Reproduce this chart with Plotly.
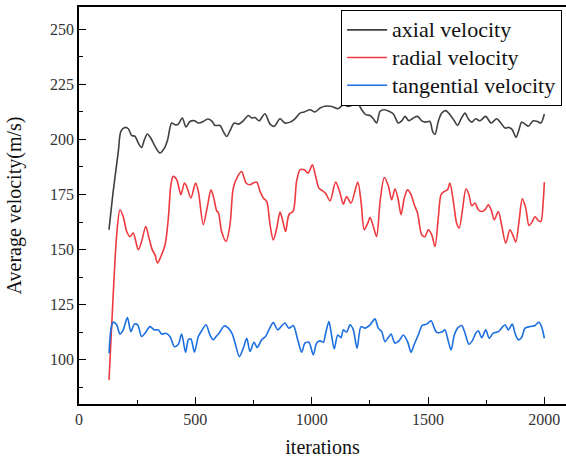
import plotly.graph_objects as go

axial_iter = [129, 147, 169, 180, 198, 212, 226, 241, 255, 269, 281, 294, 308, 327, 348, 367, 381, 398, 413, 427,
              444, 460, 477, 496, 513, 534, 553, 570, 584, 606, 620, 635, 649, 667, 685, 706, 727, 742, 756, 774,
              799, 821, 839, 864, 885, 907, 928, 950, 968, 993, 1014, 1036, 1057, 1086, 1114, 1136, 1157, 1179, 1200, 1215,
              1232, 1251, 1265, 1279, 1294, 1312, 1332, 1351, 1372, 1387, 1401, 1418, 1437, 1455, 1473, 1490, 1508, 1520, 1530, 1544,
              1559, 1576, 1594, 1613, 1627, 1642, 1659, 1673, 1688, 1705, 1723, 1748, 1771, 1795, 1813, 1831, 1848, 1862, 1878, 1891,
              1902, 1917, 1931, 1952, 1971, 1985, 2000]
axial_vel = [159.0, 176.4, 194.5, 203.6, 205.4, 204.8, 201.8, 201.3, 198.3, 196.3, 199.8, 202.4, 200.6, 196.8, 193.8, 196.0, 199.8, 207.4, 206.6, 206.9,
             209.7, 205.6, 208.1, 208.4, 207.4, 208.1, 209.2, 208.4, 206.3, 206.3, 203.6, 201.3, 203.9, 207.4, 206.9, 208.4, 210.8, 209.7, 209.9, 208.4,
             211.6, 206.9, 205.9, 209.3, 207.4, 207.8, 209.3, 211.9, 212.4, 213.4, 212.4, 214.2, 215.0, 214.9, 213.9, 215.7, 214.9, 215.7, 216.0, 213.4,
             211.2, 210.8, 209.3, 207.4, 212.7, 213.4, 212.7, 211.5, 207.4, 208.4, 210.4, 208.4, 209.7, 210.4, 208.4, 207.8, 208.1, 203.5, 202.2, 208.1,
             211.9, 213.0, 211.2, 208.4, 206.3, 209.3, 211.9, 209.3, 207.8, 209.3, 208.4, 210.4, 207.4, 209.3, 207.4, 205.1, 205.4, 204.4, 200.9, 204.4,
             207.8, 206.9, 205.9, 208.4, 208.1, 207.4, 211.5]

radial_iter = [129, 147, 162, 176, 190, 205, 219, 233, 255, 269, 287, 301, 315, 327, 337, 352, 370, 384, 395, 405,
               420, 438, 453, 463, 481, 501, 513, 534, 553, 567, 578, 592, 599, 613, 632, 649, 663, 682, 699, 718,
               735, 749, 764, 778, 792, 807, 821, 835, 850, 864, 878, 888, 902, 921, 935, 950, 968, 985, 1003, 1017,
               1031, 1046, 1060, 1079, 1103, 1122, 1136, 1150, 1169, 1198, 1212, 1226, 1241, 1251, 1265, 1279, 1294, 1312, 1329, 1344,
               1358, 1372, 1384, 1398, 1412, 1427, 1441, 1455, 1473, 1487, 1501, 1516, 1530, 1544, 1556, 1570, 1584, 1594, 1608, 1623,
               1634, 1649, 1663, 1676, 1688, 1702, 1716, 1731, 1745, 1759, 1771, 1785, 1802, 1816, 1834, 1852, 1864, 1877, 1891, 1905,
               1920, 1934, 1948, 1960, 1974, 1985, 1995, 2000]
radial_vel = [90.9, 129.5, 156.7, 168.1, 165.0, 158.2, 155.9, 157.5, 149.9, 153.7, 160.5, 155.2, 149.9, 147.6, 143.9, 146.9, 152.2, 164.3, 179.4, 183.2,
              181.7, 174.9, 180.2, 178.6, 173.4, 180.2, 176.4, 161.3, 170.3, 177.1, 174.0, 167.5, 166.8, 158.2, 153.7, 161.3, 177.9, 183.2, 185.4, 180.2,
              179.4, 180.2, 180.6, 176.4, 173.4, 171.8, 161.3, 154.4, 159.8, 167.0, 162.0, 158.2, 165.8, 167.6, 180.9, 186.2, 186.2, 184.7, 188.5, 183.2,
              177.9, 176.7, 175.5, 172.1, 180.6, 175.6, 170.6, 174.1, 171.1, 180.6, 171.8, 159.0, 162.0, 164.6, 160.5, 155.9, 171.8, 182.7, 179.1, 172.6,
              177.6, 172.6, 165.8, 173.4, 177.1, 174.9, 170.3, 166.6, 156.7, 155.9, 159.0, 156.7, 151.4, 164.3, 174.9, 176.4, 177.1, 180.2, 172.6, 162.0,
              159.8, 168.8, 177.6, 174.9, 169.9, 171.1, 168.1, 167.3, 168.1, 170.3, 168.1, 163.5, 167.3, 161.3, 152.9, 159.0, 156.7, 153.4, 162.7, 173.0,
              168.8, 160.9, 162.7, 165.0, 163.1, 162.7, 171.8, 180.6]

tangential_iter = [129, 138, 147, 162, 176, 190, 208, 223, 238, 252, 269, 284, 305, 324, 341, 355, 373, 391, 410, 427,
                   441, 458, 470, 481, 496, 513, 527, 546, 563, 577, 590, 602, 624, 642, 659, 673, 689, 706, 721, 735,
                   752, 766, 785, 802, 816, 835, 854, 868, 885, 902, 921, 940, 957, 971, 988, 1007, 1021, 1036, 1050, 1060,
                   1074, 1083, 1097, 1112, 1126, 1136, 1150, 1165, 1179, 1195, 1212, 1229, 1251, 1272, 1286, 1301, 1315, 1329, 1341, 1358,
                   1375, 1394, 1412, 1427, 1441, 1458, 1475, 1494, 1513, 1527, 1537, 1559, 1573, 1584, 1599, 1613, 1627, 1645, 1659, 1676,
                   1690, 1705, 1716, 1731, 1748, 1763, 1780, 1802, 1816, 1831, 1845, 1862, 1874, 1888, 1902, 1917, 1938, 1960, 1977, 1988,
                   2000]
tangential_vel = [103.0, 114.4, 117.1, 115.9, 111.7, 113.6, 119.2, 112.8, 116.2, 115.9, 110.6, 112.1, 115.1, 113.6, 113.6, 111.7, 112.1, 110.6, 106.0, 107.1,
                  111.7, 103.5, 109.1, 109.5, 103.5, 110.6, 113.2, 115.9, 111.3, 109.1, 110.7, 112.1, 115.4, 114.4, 111.7, 106.8, 101.5, 105.3, 109.8, 103.8,
                  108.0, 105.6, 109.1, 110.6, 113.6, 116.9, 113.6, 115.1, 116.7, 114.4, 115.6, 109.1, 103.5, 107.6, 108.0, 102.3, 107.6, 108.6, 108.0, 112.1,
                  117.4, 112.8, 105.0, 111.3, 110.1, 113.6, 112.6, 115.9, 113.6, 105.3, 115.1, 114.4, 115.9, 118.6, 114.4, 112.8, 108.3, 110.1, 111.7, 107.6,
                  108.6, 111.3, 108.3, 103.5, 107.1, 111.3, 115.6, 116.2, 117.7, 114.4, 112.5, 112.6, 113.6, 109.8, 104.5, 111.3, 114.4, 115.6, 112.1, 107.1,
                  108.6, 112.1, 113.2, 110.1, 113.6, 109.8, 112.1, 112.8, 114.4, 115.9, 113.6, 116.2, 112.1, 109.1, 110.1, 114.4, 115.1, 115.6, 117.1, 115.1,
                  109.8]

series_names = ["axial velocity", "radial velocity", "tangential velocity"]
x_ticks = [0, 500, 1000, 1500, 2000]
y_ticks = [100, 125, 150, 175, 200, 225, 250]

FONT = "Liberation Serif, Times New Roman, serif"


def legend_label(text):
    return '<span style="font-size:22px">' + text + "</span>"


fig = go.Figure()
fig.add_trace(go.Scatter(x=axial_iter, y=axial_vel, mode="lines", name=legend_label(series_names[0]),
                         line=dict(color="#404040", width=1.6, shape="spline", smoothing=0.8)))
fig.add_trace(go.Scatter(x=radial_iter, y=radial_vel, mode="lines", name=legend_label(series_names[1]),
                         line=dict(color="#EE3A3F", width=1.6, shape="spline", smoothing=0.8)))
fig.add_trace(go.Scatter(x=tangential_iter, y=tangential_vel, mode="lines", name=legend_label(series_names[2]),
                         line=dict(color="#1C6FE0", width=1.6, shape="spline", smoothing=0.8)))

axis_common = dict(
    showgrid=False, zeroline=False, showline=True, linecolor="black", linewidth=1.5,
    mirror=True, ticks="inside", ticklen=7, tickwidth=1.3, tickcolor="black",
    tickfont=dict(family=FONT, size=16, color="#333333"), automargin=False,
)

fig.update_xaxes(
    **axis_common, range=[0, 2093], tickvals=x_ticks,
    minor=dict(ticks="inside", ticklen=4, tickwidth=1.2, tickcolor="black", dtick=250, tick0=0),
    title=dict(text="iterations", font=dict(family=FONT, size=20, color="#111111"), standoff=13),
)
fig.update_yaxes(
    **axis_common, range=[80, 260], tickvals=y_ticks,
    minor=dict(ticks="inside", ticklen=4, tickwidth=1.2, tickcolor="black", dtick=12.5, tick0=0),
    title=dict(text="Average velocity(m/s)", font=dict(family=FONT, size=20, color="#111111"), standoff=23),
)

fig.update_layout(
    width=566, height=461,
    margin=dict(l=79, r=0, t=7, b=57),
    paper_bgcolor="white", plot_bgcolor="white",
    showlegend=True,
    legend=dict(x=0.992, y=0.9924, xanchor="right", yanchor="top",
                bgcolor="white", bordercolor="black", borderwidth=1,
                font=dict(family=FONT, size=19, color="#111111"),
                itemwidth=40, tracegroupgap=0),
)

fig.write_html("out.html", config={"displayModeBar": False},
               post_script="document.body.style.margin='0';document.body.style.overflow='hidden';")
